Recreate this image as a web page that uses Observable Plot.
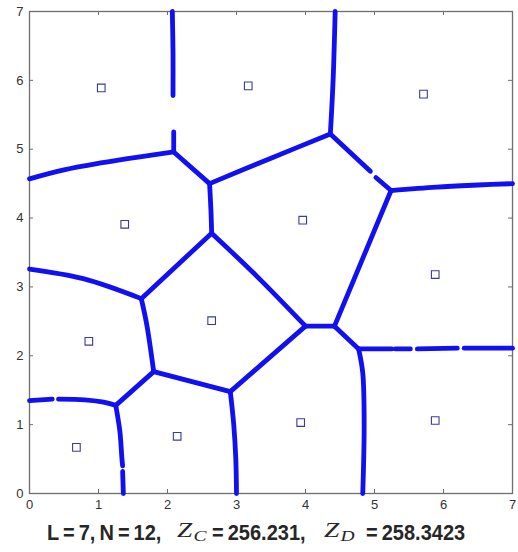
<!DOCTYPE html>
<html><head><meta charset="utf-8">
<script src="https://cdn.jsdelivr.net/npm/d3@7"></script>
<script src="https://cdn.jsdelivr.net/npm/@observablehq/plot@0.6"></script>
<style>
body{margin:0;background:#fff;}
#chart{width:518px;height:515px;}
#cap{position:relative;height:37px;width:518px;color:#262626;}
#cap span{position:absolute;white-space:nowrap;}
#cap .t{font-family:Arial,"Liberation Sans",sans-serif;font-weight:bold;font-size:20px;word-spacing:-1.5px;top:8px;transform:scaleY(1.12);transform-origin:0 100%;}
#cap .m{font-family:"Liberation Serif","DejaVu Serif",serif;font-style:italic;font-size:21px;top:3px;transform:scaleX(1.3);transform-origin:0 50%;}
#cap .m sub{font-size:15px;vertical-align:-4px;margin-left:1px;}
</style></head><body>
<div id="chart"></div>
<div id="cap"></div>
<script>
const captionL = 7, captionN = 12, captionZC = "256.231", captionZD = "258.3423";
const ticks = [0, 1, 2, 3, 4, 5, 6, 7];
const siteX = [1.04, 3.17, 5.71, 1.38, 3.96, 5.88, 0.86, 2.64, 0.68, 2.14, 3.93, 5.88];
const siteY = [5.89, 5.92, 5.80, 3.91, 3.97, 3.18, 2.21, 2.51, 0.67, 0.83, 1.03, 1.06];
const boundaries = [
  [[2.07, 7.0], [2.08, 6.4], [2.08, 5.78]],
  [[2.09, 5.25], [2.09, 4.96]],
  [[0.0, 4.57], [0.5, 4.70], [1.03, 4.80], [1.6, 4.89], [2.09, 4.96]],
  [[2.09, 4.96], [2.61, 4.50]],
  [[2.61, 4.50], [2.63, 4.1], [2.64, 3.78]],
  [[2.61, 4.50], [3.5, 4.87], [4.36, 5.22]],
  [[4.36, 5.22], [4.40, 6.0], [4.43, 7.0]],
  [[4.36, 5.22], [4.94, 4.68]],
  [[5.02, 4.59], [5.24, 4.40]],
  [[5.24, 4.40], [5.9, 4.45], [6.5, 4.48], [7.0, 4.50]],
  [[5.24, 4.40], [4.42, 2.43]],
  [[2.64, 3.78], [3.3, 3.15], [4.0, 2.43]],
  [[4.0, 2.43], [4.42, 2.43]],
  [[4.42, 2.43], [4.77, 2.10]],
  [[4.77, 2.10], [5.25, 2.10]],
  [[5.30, 2.10], [5.52, 2.10]],
  [[5.62, 2.10], [6.20, 2.11]],
  [[6.30, 2.11], [7.0, 2.11]],
  [[4.77, 2.10], [4.83, 1.75], [4.85, 1.0], [4.83, 0.0]],
  [[4.0, 2.43], [2.91, 1.48]],
  [[2.91, 1.48], [2.96, 1.0], [2.99, 0.5], [3.0, 0.0]],
  [[2.91, 1.48], [1.80, 1.77]],
  [[1.80, 1.77], [1.70, 2.45], [1.62, 2.83]],
  [[1.62, 2.83], [2.64, 3.78]],
  [[0.0, 3.26], [0.78, 3.12], [1.62, 2.83]],
  [[1.80, 1.77], [1.25, 1.28]],
  [[0.0, 1.35], [0.33, 1.37]],
  [[0.42, 1.37], [0.8, 1.36], [1.05, 1.33], [1.25, 1.28]],
  [[1.25, 1.28], [1.31, 0.9], [1.34, 0.5], [1.35, 0.40]],
  [[1.35, 0.32], [1.36, 0.0]]
];

const lineRows = boundaries.flatMap((pts, i) => pts.map(([x, y]) => ({id: i, x, y})));
const sites = siteX.map((x, i) => ({x, y: siteY[i]}));

const W = 518, H = 515, mT = 11, mL = 29, mR = 6, mB = 22;
const innerW = W - mL - mR, innerH = H - mT - mB, tk = 4;
const axisColor = "#6e6e6e";

const chart = Plot.plot({
  width: W, height: H,
  marginTop: mT, marginLeft: mL, marginRight: mR, marginBottom: mB,
  style: {fontFamily: "Arial, 'Liberation Sans', sans-serif", fontSize: "13px", color: "#333", background: "#fff"},
  x: {domain: [0, 7]},
  y: {domain: [0, 7]},
  marks: [
    Plot.frame({stroke: axisColor, strokeWidth: 1.3}),
    Plot.tickX(ticks, {x: d => d, insetTop: innerH - tk, stroke: axisColor}),
    Plot.tickX(ticks, {x: d => d, insetBottom: innerH - tk, stroke: axisColor}),
    Plot.tickY(ticks, {y: d => d, insetRight: innerW - tk, stroke: axisColor}),
    Plot.tickY(ticks, {y: d => d, insetLeft: innerW - tk, stroke: axisColor}),
    Plot.axisX(ticks, {tickSize: 0, tickPadding: 6, tickFormat: d => String(d), fill: "#333", label: null}),
    Plot.axisY(ticks, {tickSize: 0, tickPadding: 6, tickFormat: d => String(d), fill: "#333", label: null}),
    Plot.line(lineRows, {x: "x", y: "y", z: "id", curve: "catmull-rom", stroke: "#1010f2", strokeWidth: 4.8, strokeLinecap: "round", strokeLinejoin: "round"}),
    Plot.dot(sites, {x: "x", y: "y", symbol: "square", r: 4.3, stroke: "#3a3a9e", strokeWidth: 1.1, fill: "none"})
  ]
});
document.getElementById("chart").appendChild(chart);

document.getElementById("cap").innerHTML =
  `<span class="t" style="left:47px">L = ${captionL}, N = ${captionN},</span>` +
  `<span class="m" style="left:177px">Z<sub>C</sub></span>` +
  `<span class="t" style="left:212px">= ${captionZC},</span>` +
  `<span class="m" style="left:324px">Z<sub>D</sub></span>` +
  `<span class="t" style="left:366px">= ${captionZD}</span>`;
</script>
</body></html>
